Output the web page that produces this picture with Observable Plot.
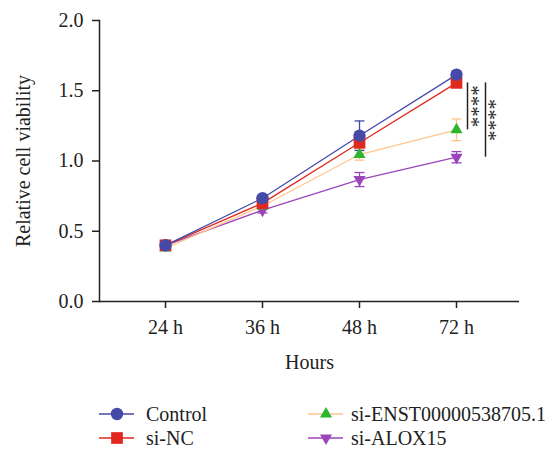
<!DOCTYPE html>
<html><head><meta charset="utf-8">
<script src="https://cdn.jsdelivr.net/npm/d3@7"></script>
<script src="https://cdn.jsdelivr.net/npm/@observablehq/plot@0.6"></script>
<style>
body{margin:0;background:#fff;}
#chart{width:555px;}
.legend{position:relative;width:555px;height:63px;font-family:"Liberation Serif",serif;font-size:20px;color:#222;}
.item{position:absolute;height:24px;}
.item svg{position:absolute;left:0;top:0;}
.item span{position:absolute;top:0;line-height:24px;white-space:nowrap;}
</style></head><body><div id="chart"></div>
<script>
const hours = ["24 h", "36 h", "48 h", "72 h"];
const groups = ["Control", "si-NC", "si-ENST00000538705.1", "si-ALOX15"];
const control = [0.40, 0.735, 1.18, 1.615];
const siNC = [0.40, 0.70, 1.13, 1.556];
const siENST = [0.38, 0.68, 1.046, 1.222];
const siALOX15 = [0.40, 0.65, 0.868, 1.027];
const sdControl = [0.01, 0.02, 0.105, 0.02];
const sdSiNC = [0.01, 0.02, 0.03, 0.02];
const sdSiENST = [0.01, 0.02, 0.04, 0.077];
const sdSiALOX15 = [0.01, 0.02, 0.05, 0.04];
const yTicks = [0, 0.5, 1.0, 1.5, 2.0];
const lineColors = ["#454aa9", "#e0281e", "#ffc68c", "#9c45bb"];
const markerColors = ["#454aa9", "#e0281e", "#2db52d", "#9c45bb"];
const symbols = ["circle", "square", "triangle", "triangle"];
const rotations = [0, 0, 0, 180];
const radii = [6.2, 6.6, 4.5, 4.5];
const stars = ["****", "****"];

const values = [control, siNC, siENST, siALOX15];
const sds = [sdControl, sdSiNC, sdSiENST, sdSiALOX15];
const series = groups.map((g, gi) => hours.map((h, i) => ({group: g, hour: h, value: values[gi][i], sd: sds[gi][i]})));

const cap = {draw(ctx) { ctx.moveTo(-5, 0); ctx.lineTo(5, 0); }};

const marks = [];
const order = [3, 2, 1, 0];
for (const gi of order) {
  const rows = series[gi];
  marks.push(Plot.line(rows, {x: "hour", y: "value", stroke: lineColors[gi], strokeWidth: 1.3}));
  marks.push(Plot.ruleX(rows, {x: "hour", y1: d => d.value - d.sd, y2: d => d.value + d.sd, stroke: lineColors[gi], strokeWidth: 1.3}));
  marks.push(Plot.dot(rows, {x: "hour", y: d => d.value + d.sd, symbol: cap, fill: "none", stroke: lineColors[gi], strokeWidth: 1.3}));
  marks.push(Plot.dot(rows, {x: "hour", y: d => d.value - d.sd, symbol: cap, fill: "none", stroke: lineColors[gi], strokeWidth: 1.3}));
}
for (const gi of order) {
  marks.push(Plot.dot(series[gi], {x: "hour", y: "value", symbol: symbols[gi], r: radii[gi], fill: markerColors[gi], stroke: "none", rotate: rotations[gi]}));
}

const last = hours.length - 1;
const plot = Plot.plot({
  width: 555, height: 390,
  marginLeft: 99, marginRight: 36, marginTop: 20, marginBottom: 89,
  style: {fontFamily: "'Liberation Serif', serif", fontSize: "20px", color: "#222", background: "#fff"},
  x: {type: "point", domain: hours, padding: 0, insetLeft: 65, insetRight: 63},
  y: {domain: [0, 2]},
  marks: [
    Plot.axisY({ticks: yTicks, tickFormat: d3.format(".1f"), tickSize: 7, tickPadding: 9, strokeWidth: 1.5, label: null}),
    Plot.axisX({tickSize: 7, tickPadding: 11, strokeWidth: 1.5, label: null}),
    Plot.ruleY([0], {strokeWidth: 1.5}),
    Plot.frame({anchor: "left", strokeWidth: 1.5}),
    Plot.text(["Relative cell viability"], {frameAnchor: "left", textAnchor: "middle", rotate: -90, dx: -76, fontSize: 20}),
    Plot.text(["Hours"], {frameAnchor: "bottom", dy: 67, fontSize: 20}),
    ...marks,
    Plot.ruleX([0], {x: () => hours[last], y1: () => siNC[last], y2: () => siENST[last], dx: 11, strokeWidth: 1.5}),
    Plot.ruleX([0], {x: () => hours[last], y1: () => siNC[last], y2: () => siALOX15[last], dx: 29, strokeWidth: 1.5}),
    Plot.text([stars[0]], {x: () => hours[last], y: () => (siNC[last] + siENST[last]) / 2, dx: 15, rotate: 90, fontSize: 21}),
    Plot.text([stars[1]], {x: () => hours[last], y: () => (siNC[last] + siALOX15[last]) / 2, dx: 32, rotate: 90, fontSize: 21})
  ]
});
document.getElementById("chart").appendChild(plot);

// legend
const legend = document.createElement("div");
legend.className = "legend";
const pos = [[99, 24], [99, 48], [308, 24], [308, 48]];
const symPaths = groups.map((g, gi) => {
  const s = d3.symbol(symbols[gi] === "circle" ? d3.symbolCircle : symbols[gi] === "square" ? d3.symbolSquare : d3.symbolTriangle, Math.PI * radii[gi] * radii[gi])();
  return s;
});
groups.forEach((g, gi) => {
  const item = document.createElement("div");
  item.className = "item";
  item.style.left = pos[gi][0] + "px";
  item.style.top = (pos[gi][1] - 12) + "px";
  item.style.width = "260px";
  item.innerHTML = `<svg width="40" height="24"><line x1="0" x2="35" y1="12" y2="12" stroke="${lineColors[gi]}" stroke-width="1.5"/><path d="${symPaths[gi]}" transform="translate(18,12) rotate(${rotations[gi]})" fill="${markerColors[gi]}"/></svg><span style="left:${gi < 2 ? 47 : 43}px">${g}</span>`;
  legend.appendChild(item);
});
document.body.appendChild(legend);
</script>
</body></html>
